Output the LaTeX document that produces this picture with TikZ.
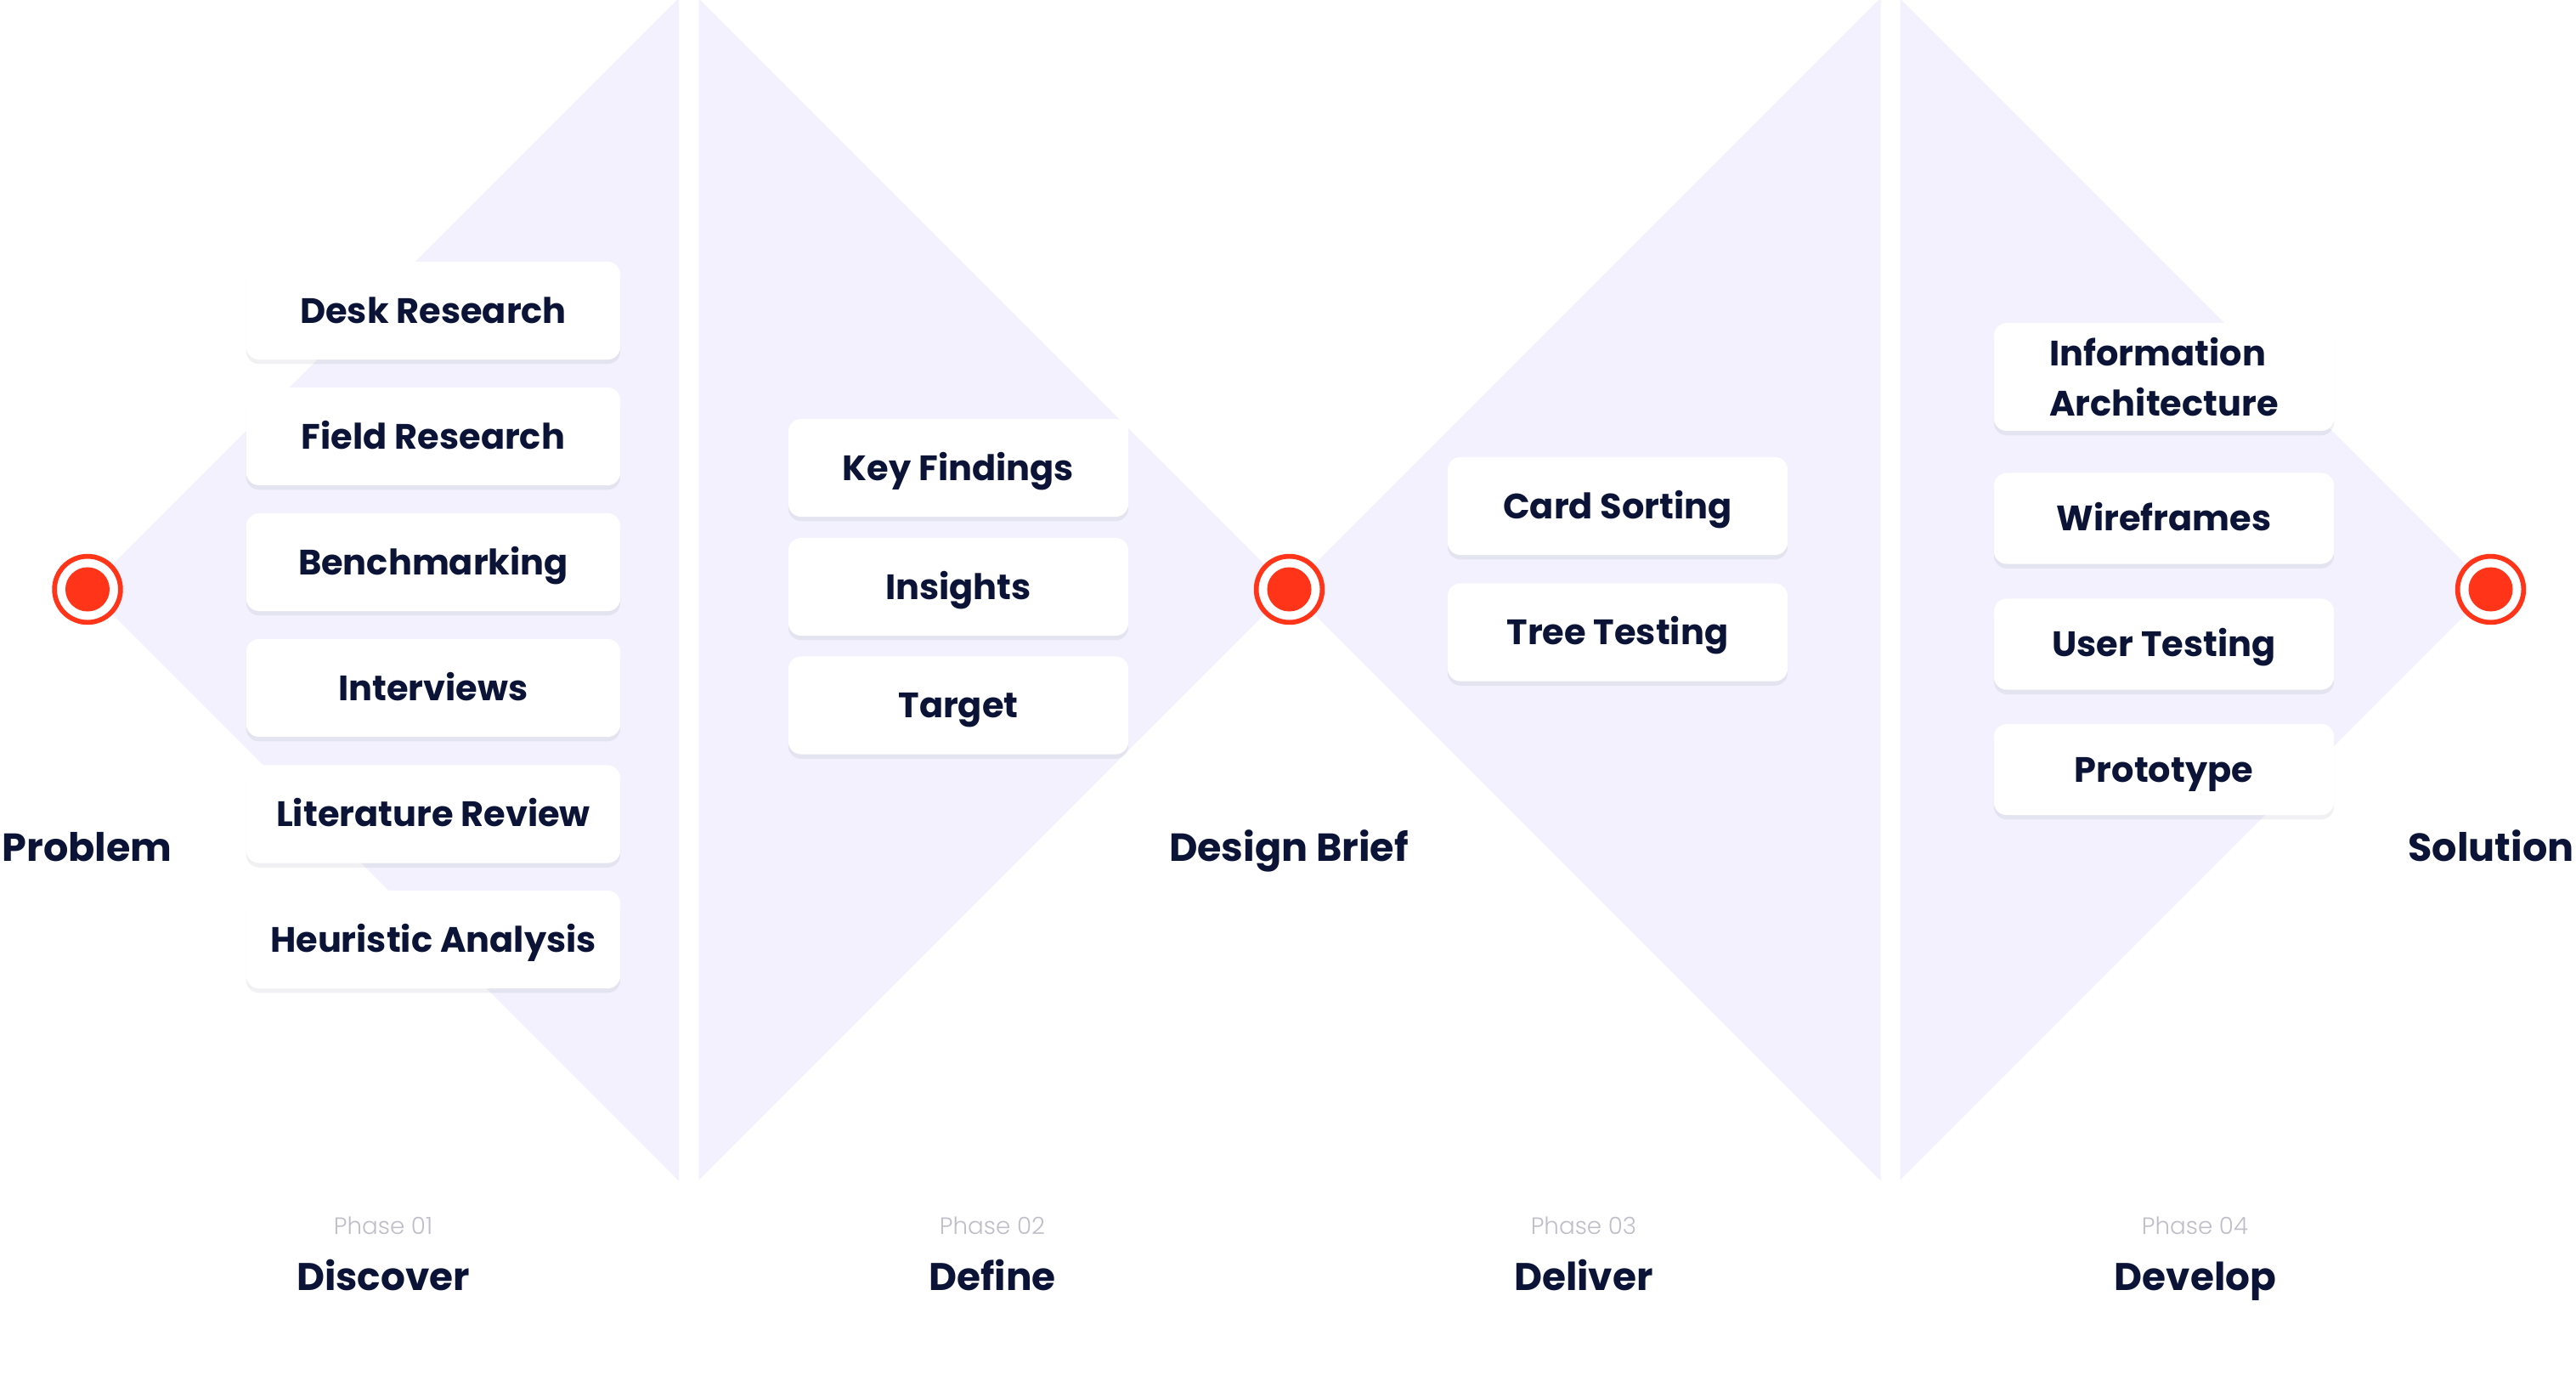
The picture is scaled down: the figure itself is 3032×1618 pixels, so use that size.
\documentclass[tikz,border=0pt]{standalone}
\usepackage{fontspec}
\setmainfont{Poppins}
\newfontfamily\lightfont{Poppins Light}
\usetikzlibrary{positioning,shadows}

\definecolor{ink}{HTML}{0B1437}
\definecolor{lilac}{HTML}{F2F1FD}
\definecolor{signal}{HTML}{FF3419}
\definecolor{mute}{HTML}{BEBEC9}

\tikzset{
  card/.style={rectangle, rounded corners=0.15cm, fill=white, inner sep=0pt,
    minimum width=4cm, minimum height=1.15cm, text=ink,
    font=\fontsize{11.8pt}{17pt}\selectfont\bfseries,
    text height=8.3pt, text depth=0pt,
    drop shadow={shadow xshift=0pt, shadow yshift=-1.5pt, opacity=0.06, fill=ink}},
  wide card/.style={card, minimum width=4.4cm},
  ring/.style={circle, draw=signal, line width=1.62pt, fill=white,
    minimum size=0.777cm, inner sep=0pt},
  dot/.style={circle, fill=signal, minimum size=0.52cm, inner sep=0pt},
  milestone/.style={anchor=base, text=ink, font=\fontsize{13.1pt}{16pt}\selectfont\bfseries},
  phase/.style={anchor=base, text=mute, font=\fontsize{7.9pt}{10pt}\lightfont},
  phase name/.style={anchor=base, text=ink, font=\fontsize{12.9pt}{16pt}\selectfont\bfseries}
}

\begin{document}
\begin{tikzpicture}[x=0.01cm, y=-0.01cm]
  \useasboundingbox (0,0) rectangle (3032,1618);

  % diamonds, each cut in two halves
  \fill[lilac] (103,693.5) -- (799,-2.5) -- (799,1389.5) -- cycle;
  \fill[lilac] (822.5,-1.5) -- (1517.5,693.5) -- (822.5,1388.5) -- cycle;
  \fill[lilac] (1517.5,693.5) -- (2213.5,-2.5) -- (2213.5,1389.5) -- cycle;
  \fill[lilac] (2236.5,-1.5) -- (2931.5,693.5) -- (2236.5,1388.5) -- cycle;

  % milestones
  \node [ring] (p) at (103,693.5) {};
  \node [dot] (pdot) at (p) {};
  \node [ring] (b) at (1517.5,693.5) {};
  \node [dot] (bdot) at (b) {};
  \node [ring] (s) at (2931.5,693.5) {};
  \node [dot] (sdot) at (s) {};

  \node [milestone] (problem) at (102.5,1013) {Problem};
  \node [milestone] (brief) at (1517,1013) {Design Brief};
  \node [milestone] (solution) at (2932,1013) {Solution};

  % phase 01
  \node [wide card] (desk) at (510,365.5) {Desk Research};
  \node [wide card] (field) at (510,513.5) {Field Research};
  \node [wide card] (bench) at (510,661.5) {Benchmarking};
  \node [wide card] (interviews) at (510,809.5) {Interviews};
  \node [wide card] (litrev) at (510,958) {Literature Review};
  \node [wide card] (heuristic) at (510,1105.5) {Heuristic Analysis};

  % phase 02
  \node [card] (findings) at (1128,550.5) {Key Findings};
  \node [card] (insights) at (1128,690.5) {Insights};
  \node [card] (target) at (1128,830) {Target};

  % phase 03
  \node [card] (cards) at (1904,595.5) {Card Sorting};
  \node [card] (tree) at (1904,744) {Tree Testing};

  % phase 04
  \node [card, minimum height=1.27cm, text height=, text depth=, align=left] (infoarch) at (2547,443.5) {Information\\Architecture};
  \node [card, minimum height=1.07cm] (wires) at (2547,610) {Wireframes};
  \node [card, minimum height=1.07cm] (usertest) at (2547,758) {User Testing};
  \node [card, minimum height=1.07cm] (proto) at (2547,905.5) {Prototype};

  % phase captions
  \node [phase] (ph1) at (451,1452) {Phase 01};
  \node [phase name] (discover) at (451,1518) {Discover};
  \node [phase] (ph2) at (1168,1452) {Phase 02};
  \node [phase name] (define) at (1168,1518) {Define};
  \node [phase] (ph3) at (1864,1452) {Phase 03};
  \node [phase name] (deliver) at (1864,1518) {Deliver};
  \node [phase] (ph4) at (2583.5,1452) {Phase 04};
  \node [phase name] (develop) at (2584,1518) {Develop};
\end{tikzpicture}
\end{document}
